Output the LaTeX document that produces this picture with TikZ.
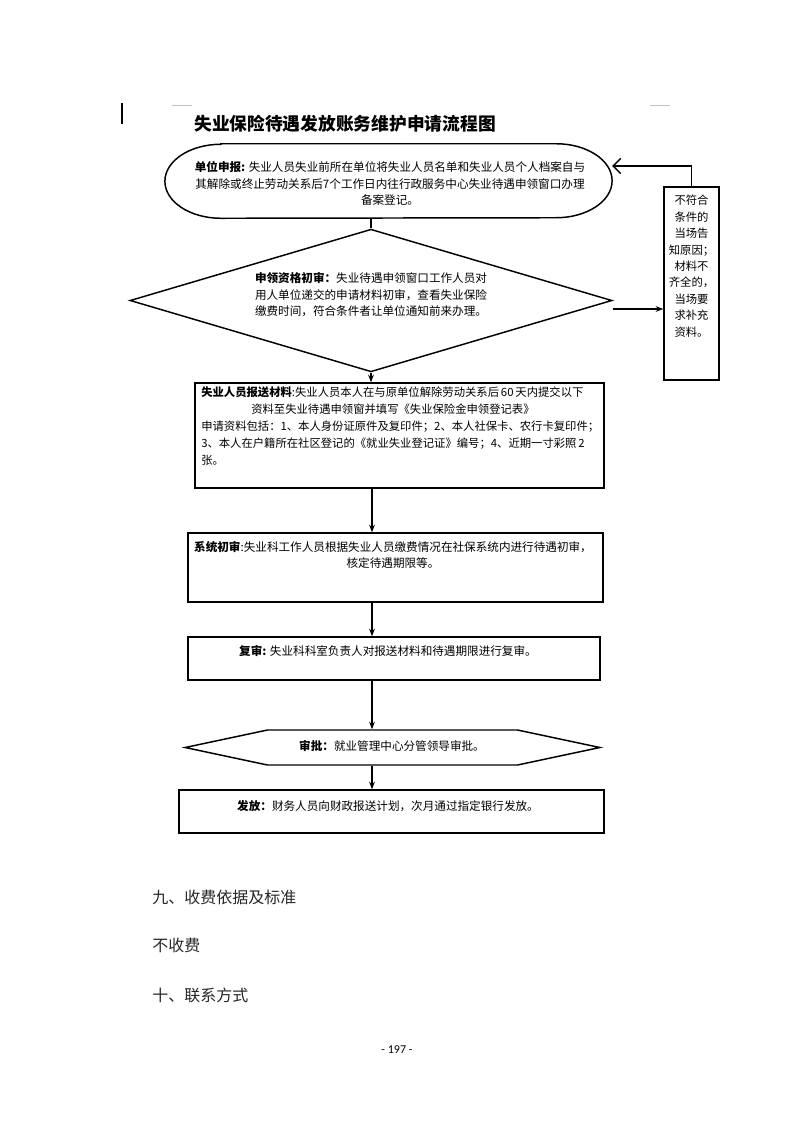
\documentclass[tikz,border=0pt]{standalone}
\usepackage{fontspec}
\setmainfont{Noto Sans CJK SC}
\newfontfamily\pagefont{Carlito}
\usepackage{tikz}
\usetikzlibrary{shapes.geometric, shapes.symbols, arrows.meta, positioning}
\tikzstyle{startbox} = [rectangle, minimum width=335pt, minimum height=55.5pt, inner sep=0]
\tikzstyle{outline} = [line width=1.1pt]
\tikzstyle{checkbox} = [diamond, draw, line width=1.1pt, minimum width=361.5pt,
                        minimum height=107pt, inner sep=0]
\tikzstyle{stepbox} = [rectangle, draw, line width=1.1pt, inner sep=0]
\tikzstyle{hexbox} = [signal, signal to=west and east, signal pointer angle=24, draw,
                      line width=1.1pt, minimum width=311pt, minimum height=26.25pt, inner sep=0]
\tikzstyle{body} = [font=\fontsize{8.7pt}{12.4pt}\selectfont, inner sep=0]
\tikzstyle{pagetext} = [font=\fontsize{12pt}{14pt}\selectfont, text=black!85, anchor=west, inner sep=0]
\tikzstyle{arrow} = [-{Stealth[length=2mm]}, line width=1.1pt]
\tikzstyle{backarrow} = [-{Straight Barb[length=2mm]}, line width=1.1pt]

\begin{document}
\begin{tikzpicture}[x=0.75pt, y=-0.75pt]
    \useasboundingbox (0,0) rectangle (793,1122);
    % Margin marks
    \draw[line width=0.9pt] (122,103) -- (122,124);
    \draw[gray!50, line width=0.6pt] (172,105) -- (192,105);
    \draw[gray!50, line width=0.6pt] (650,105) -- (670,105);
    \node[font=\fontsize{13.3pt}{15pt}\selectfont\bfseries] (title) at (345,124) {失业保险待遇发放账务维护申请流程图};

    % Steps
    \node[startbox] (report) at (388.5,181) {};
    \draw[outline] ([xshift=42pt]report.north west) -- ([xshift=-42pt]report.north east)
        arc[start angle=90, end angle=-90, x radius=42pt, y radius=27.75pt]
        -- ([xshift=42pt]report.south west)
        arc[start angle=-90, end angle=-270, x radius=42pt, y radius=27.75pt] -- cycle;
    \node[checkbox] (check) at (371,300.5) {};
    \node[stepbox, minimum width=41.25pt, minimum height=144.75pt] (reason) at (691.5,283.5) {};
    \node[stepbox, minimum width=306.75pt, minimum height=78.75pt] (claim) at (399.5,435.5) {};
    \node[stepbox, minimum width=311.25pt, minimum height=51.75pt] (system) at (395.5,567.5) {};
    \node[stepbox, minimum width=309pt, minimum height=32.25pt] (review) at (394,658.5) {};
    \node[hexbox] (approve) at (392.5,747.5) {};
    \node[stepbox, minimum width=318.75pt, minimum height=32.25pt] (issue) at (391.5,811.5) {};

    % Texts
    \node[body, align=center] (reporttext) at (390,183.5)
        {\textbf{单位申报:} 失业人员失业前所在单位将失业人员名单和失业人员个人档案自与\\
         其解除或终止劳动关系后7个工作日内往行政服务中心失业待遇申领窗口办理\\
         备案登记。};
    \node[body, align=left] (checktext) at (371,295)
        {\textbf{申领资格初审：}失业待遇申领窗口工作人员对\\
         用人单位递交的申请材料初审，查看失业保险\\
         缴费时间，符合条件者让单位通知前来办理。};
    \node[body, font=\fontsize{8.5pt}{12.3pt}\selectfont, align=center, anchor=north] (reasontext) at (691.5,195)
        {不符合\\条件的\\当场告\\知原因；\\材料不\\齐全的，\\当场要\\求补充\\资料。};
    \node[body, font=\fontsize{8.5pt}{12.6pt}\selectfont, align=left, anchor=north west] (claimtext) at (201,387)
        {\textbf{失业人员报送材料}:失业人员本人在与原单位解除劳动关系后\,60\,天内提交以下\\
         \hspace*{37.5pt}资料至失业待遇申领窗并填写《失业保险金申领登记表》\\
         申请资料包括：1、本人身份证原件及复印件；2、本人社保卡、农行卡复印件；\\
         3、本人在户籍所在社区登记的《就业失业登记证》编号；4、近期一寸彩照\,2\\
         张。};
    \node[body, align=center, anchor=north] (systemtext) at (393,541)
        {\textbf{系统初审}:失业科工作人员根据失业人员缴费情况在社保系统内进行待遇初审，\\
         核定待遇期限等。};
    \node[body] (reviewtext) at (388,651) {\textbf{复审:} 失业科科室负责人对报送材料和待遇期限进行复审。};
    \node[body] (approvetext) at (392,746) {\textbf{审批：}就业管理中心分管领导审批。};
    \node[body] (issuetext) at (388,806) {\textbf{发放：}财务人员向财政报送计划，次月通过指定银行发放。};

    % Connectors
    \coordinate (axis) at (372,0);
    \path ([yshift=-6.375pt]check.east) coordinate (checkout);
    \path ([yshift=11.25pt]report.east) coordinate (reportin);
    \draw[line width=1.1pt] (report.south -| check.north) -- (check.north);
    \draw[arrow] (check.south) -- (check.south |- claim.north);
    \draw[arrow] (checkout) -- (checkout -| reason.west);
    \draw[backarrow] (reason.north) |- (reportin);
    \draw[arrow] (claim.south -| axis) -- (system.north -| axis);
    \draw[arrow] (system.south -| axis) -- (review.north -| axis);
    \draw[arrow] (review.south -| axis) -- (approve.north -| axis);
    \draw[arrow] (approve.south -| axis) -- (issue.north -| axis);

    % Page text
    \node[pagetext] (fee) at (152,897) {九、收费依据及标准};
    \node[pagetext] (nofee) at (152,945) {不收费};
    \node[pagetext] (contact) at (152,995) {十、联系方式};
    \node[font=\pagefont\fontsize{9pt}{11pt}\selectfont] (page) at (397,1050) {- 197 -};
\end{tikzpicture}
\end{document}
